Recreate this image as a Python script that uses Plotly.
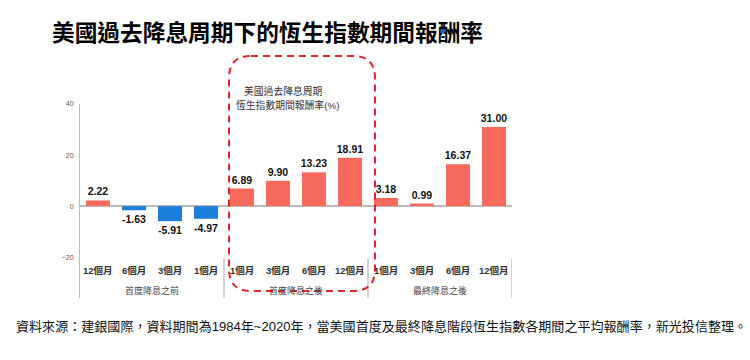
import plotly.graph_objects as go

categories = ["12個月", "6個月", "3個月", "1個月",
              "1個月", "3個月", "6個月", "12個月",
              "1個月", "3個月", "6個月", "12個月"]
groups = ["首度降息之前", "首度降息之後", "最終降息之後"]
values = [2.22, -1.63, -5.91, -4.97, 6.89, 9.90, 13.23, 18.91, 3.18, 0.99, 16.37, 31.00]
ytick_vals = [-20, 0, 20, 40]

title_text = "美國過去降息周期下的恆生指數期間報酬率"
box_lines = ["美國過去降息周期", "恆生指數期間報酬率(%)"]
footnote = "資料來源：建銀國際，資料期間為1984年~2020年，當美國首度及最終降息階段恆生指數各期間之平均報酬率，新光投信整理。"

RED = "#F8695D"
BLUE = "#1A7FD8"
FONT = "Liberation Sans, Noto Sans CJK TC, sans-serif"

W, H = 750, 360
L, R, T, B = 80, 238, 104, 62
PW, PH = W - L - R, H - T - B

def px_x(p):
    return (p - L) / PW

def px_y(p):
    return (H - B - p) / PH

x_idx = list(range(len(values)))
colors = [RED if v >= 0 else BLUE for v in values]

fig = go.Figure()
fig.add_trace(go.Bar(
    x=x_idx, y=values,
    marker=dict(color=colors, line=dict(width=0)),
    text=[f"{v:.2f}" for v in values],
    textposition="outside",
    constraintext="none",
    cliponaxis=False,
    textfont=dict(family=FONT, size=10.5, color="#111", weight="bold"),
    hoverinfo="skip",
))

annotations = []
for i, c in enumerate(categories):
    annotations.append(dict(x=i, y=-25.1, xref="x", yref="y", text=c, showarrow=False,
                            font=dict(family=FONT, size=9.5, color="#333", weight="bold")))
for g, gi in enumerate(groups):
    annotations.append(dict(x=g * 4 + 1.5, y=-33.2, xref="x", yref="y", text=gi, showarrow=False,
                            font=dict(family=FONT, size=9, color="#444")))
annotations.append(dict(x=px_x(283), y=px_y(83), xref="paper", yref="paper", text=box_lines[0],
                        showarrow=False, font=dict(family=FONT, size=9.8, color="#333")))
annotations.append(dict(x=px_x(287), y=px_y(97), xref="paper", yref="paper", text=box_lines[1],
                        showarrow=False, font=dict(family=FONT, size=9.8, color="#333")))
annotations.append(dict(x=px_x(14), y=px_y(336), xref="paper", yref="paper", text=footnote,
                        xanchor="left", showarrow=False,
                        font=dict(family=FONT, size=13.05, color="#111")))

shapes = []
for xs in [3.5, 7.5, 11.5]:
    shapes.append(dict(type="line", xref="x", yref="y", x0=xs, x1=xs, y0=-20.4, y1=-36,
                       line=dict(color="#aaa", width=1)))

# rounded dashed box (pixel geometry -> paper coords)
bx0, bx1, by0, by1, r = 229, 375, 56, 291, 22
def P(xp, yp):
    return f"{px_x(xp):.5f},{px_y(yp):.5f}"
path = (f"M {P(bx0 + r, by0)} L {P(bx1 - r, by0)} Q {P(bx1, by0)} {P(bx1, by0 + r)} "
        f"L {P(bx1, by1 - r)} Q {P(bx1, by1)} {P(bx1 - r, by1)} "
        f"L {P(bx0 + r, by1)} Q {P(bx0, by1)} {P(bx0, by1 - r)} "
        f"L {P(bx0, by0 + r)} Q {P(bx0, by0)} {P(bx0 + r, by0)} Z")
shapes.append(dict(type="path", xref="paper", yref="paper", path=path,
                   line=dict(color="#E3242B", width=2, dash="7px,5px")))

fig.update_layout(
    width=W, height=H,
    margin=dict(l=L, r=R, t=T, b=B, autoexpand=False),
    paper_bgcolor="white", plot_bgcolor="white",
    showlegend=False,
    bargap=0.333,
    title=dict(text=title_text, x=52 / W, xanchor="left", y=1 - 33 / H, yanchor="middle",
               xref="container", yref="container",
               font=dict(family=FONT, size=22.7, color="#000", weight="bold")),
    xaxis=dict(range=[-0.5, 11.5], visible=False, fixedrange=True),
    yaxis=dict(range=[-36, 40], tickvals=ytick_vals, showgrid=False,
               showline=True, linecolor="#bbb", linewidth=1,
               zeroline=True, zerolinecolor="#bbb", zerolinewidth=2,
               ticks="outside", ticklen=4, tickcolor="rgba(0,0,0,0)",
               tickfont=dict(family=FONT, size=7, color="#555"), fixedrange=True),
    annotations=annotations,
    shapes=shapes,
)

fig.write_html("out.html", config={"displayModeBar": False},
               post_script="document.body.style.margin='0';document.body.style.padding='0';")
